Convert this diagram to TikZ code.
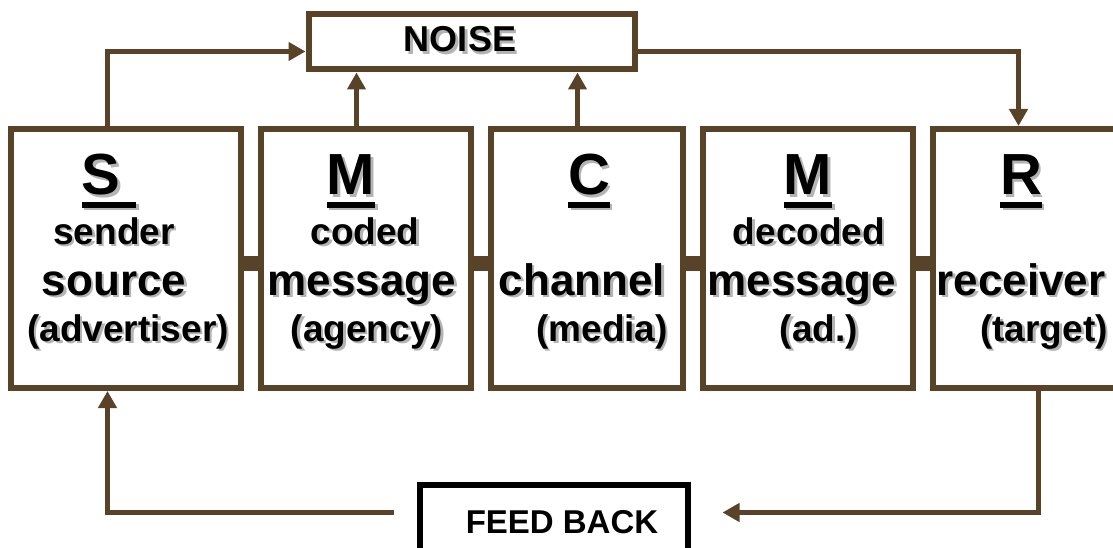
\documentclass[tikz,border=0pt]{standalone}
\usepackage{fontspec}
\setmainfont{Liberation Sans}
\usetikzlibrary{arrows.meta}
\definecolor{brn}{RGB}{88,66,40}
\definecolor{shadowc}{RGB}{180,180,180}
\newcommand\shd[1]{\leavevmode\rlap{\kern2.5pt\raisebox{-2.5pt}{\color{shadowc}#1}}#1}
\newcommand\ulx[1]{\setbox0\hbox{#1}\rlap{\rule[-13pt]{\wd0}{6pt}}\box0}
\begin{document}
\begin{tikzpicture}[x=1pt,y=-1pt,
  box/.style={draw=brn,line width=6pt,inner sep=0pt,fill=white},
  fbbox/.style={draw=black,line width=6pt,inner sep=0pt,fill=white},
  arr/.style={draw=brn,line width=5.5pt,-{Triangle[length=17pt,width=18pt]}},
  bar/.style={draw=brn,line width=15pt},
  lt/.style={font=\fontsize{58}{58}\selectfont\bfseries,anchor=base,inner sep=0pt},
  md/.style={font=\fontsize{44}{44}\selectfont\bfseries,anchor=base,inner sep=0pt},
  sm/.style={font=\fontsize{37}{37}\selectfont\bfseries,anchor=base,inner sep=0pt},
  nz/.style={font=\fontsize{36}{36}\selectfont\bfseries,anchor=base,inner sep=0pt},
  fbt/.style={font=\fontsize{33}{33}\selectfont\bfseries,anchor=base,inner sep=0pt}]
\useasboundingbox (0,0) rectangle (1113,548);
\clip (0,0) rectangle (1113,548);
\fill[white] (0,0) rectangle (1113,548);

% boxes
\node[box,minimum width=230pt,minimum height=259pt] (S) at (126,258.5) {};
\node[box,minimum width=210.5pt,minimum height=259pt] (M1) at (365.75,258.5) {};
\node[box,minimum width=192pt,minimum height=259pt] (C) at (586.5,258.5) {};
\node[box,minimum width=210.5pt,minimum height=259pt] (M2) at (807.75,258.5) {};
\node[box,minimum width=212pt,minimum height=259pt] (R) at (1038.5,258.5) {};
\node[box,minimum width=326.5pt,minimum height=55pt] (noise) at (471.75,42) {};
\node[fbbox,minimum width=268pt,minimum height=90pt] (FB) at (553.5,530) {};

% bars between boxes
\draw[bar] ([yshift=-4.5pt]S.east) -- ([yshift=-4.5pt]M1.west);
\draw[bar] ([yshift=-4.5pt]M1.east) -- ([yshift=-4.5pt]C.west);
\draw[bar] ([yshift=-4.5pt]C.east) -- ([yshift=-4.5pt]M2.west);
\draw[bar] ([yshift=-4.5pt]M2.east) -- ([yshift=-4.5pt]R.west);

% noise connectors
\draw[arr] ([xshift=-18.5pt]S.north) |- ([yshift=-9.5pt]noise.west);
\draw[arr] ([xshift=-9.25pt]M1.north) -- ([xshift=-9.25pt]M1.north |- noise.south);
\draw[arr] ([xshift=-9pt]C.north) -- ([xshift=-9pt]C.north |- noise.south);
\draw[arr] ([yshift=-9.5pt]noise.east) -| ([xshift=-20pt]R.north);

% feedback connectors
\coordinate (fbR) at ([xshift=32pt,yshift=17.5pt]FB.east);
\coordinate (fbL) at ([xshift=-23pt,yshift=17.5pt]FB.west);
\draw[arr] (R.south) |- (fbR);
\draw[arr] (fbL) -| ([xshift=-18.5pt]S.south);

% texts
\node[nz] (tnoise) at (460,52) {\shd{NOISE}};
\node[fbt] (tfb) at (562,533) {FEED BACK};

\node[lt] (tS) at (109,195) {\shd{\ulx{S\ }}};
\node[sm] (tS2) at (114,244) {\shd{sender}};
\node[md] (tS3) at (114,295) {\shd{source}};
\node[sm] (tS4) at (128,341) {\shd{(advertiser)}};

\node[lt] (tM) at (351,195) {\shd{\ulx{M}}};
\node[sm] (tM2) at (365,244) {\shd{coded}};
\node[md] (tM3) at (362,295) {\shd{message}};
\node[sm] (tM4) at (367,341) {\shd{(agency)}};

\node[lt] (tC) at (589,195) {\shd{\ulx{C}}};
\node[md] (tC3) at (582,295) {\shd{channel}};
\node[sm] (tC4) at (602,341) {\shd{(media)}};

\node[lt] (tN) at (808,195) {\shd{\ulx{M}}};
\node[sm] (tN2) at (809,244) {\shd{decoded}};
\node[md] (tN3) at (802,295) {\shd{message}};
\node[sm] (tN4) at (819,341) {\shd{(ad.)}};

\node[lt] (tR) at (1021,195) {\shd{\ulx{R}}};
\node[md] (tR3) at (1021,295) {\shd{receiver}};
\node[sm] (tR4) at (1044,341) {\shd{(target)}};
\end{tikzpicture}
\end{document}
